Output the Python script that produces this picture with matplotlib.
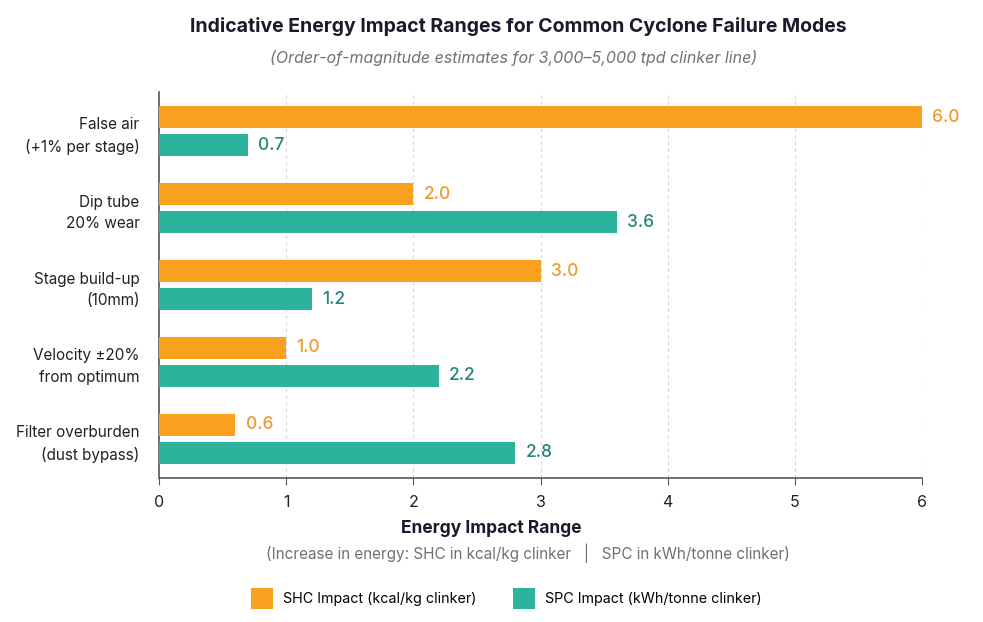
import matplotlib.pyplot as plt
import numpy as np
from matplotlib.patches import Patch

plt.rcParams['font.family'] = ['Inter', 'DejaVu Sans']

# Data
categories = ['False air\n(+1% per stage)', 'Dip tube\n20% wear', 'Stage build-up\n(10mm)',
              'Velocity ±20%\nfrom optimum', 'Filter overburden\n(dust bypass)']
shc_values = [6.0, 2.0, 3.0, 1.0, 0.6]
spc_values = [0.7, 3.6, 1.2, 2.2, 2.8]
xticks = [0, 1, 2, 3, 4, 5, 6]

orange = '#F9A11F'
teal = '#2DB39B'
orange_txt = '#EE9A2C'
teal_txt = '#25857A'

fig = plt.figure(figsize=(9.83, 6.22), dpi=100)
ax = fig.add_axes([0.1618, 0.2315, 0.7762, 0.6205])

y = np.arange(len(categories))
h = 0.286
off = 0.182
ax.barh(y - off, shc_values, height=h, color=orange, zorder=3)
ax.barh(y + off, spc_values, height=h, color=teal, zorder=3)

for yi, v in zip(y, shc_values):
    ax.text(v + 0.08, yi - off, f'{v:.1f}', va='center', ha='left',
            fontsize=12.5, color=orange_txt, fontweight='medium')
for yi, v in zip(y, spc_values):
    ax.text(v + 0.08, yi + off, f'{v:.1f}', va='center', ha='left',
            fontsize=12.5, color=teal_txt, fontweight='medium')

ax.set_xlim(0, 6)
ax.set_ylim(4.51, -0.51)
ax.set_xticks(xticks)
ax.set_xticklabels([str(t) for t in xticks], fontsize=11.5, color='#222222')
ax.set_yticks(y)
ax.set_yticklabels(categories, fontsize=11, color='#222222', linespacing=1.55)
ax.tick_params(axis='y', length=0, pad=14)
ax.tick_params(axis='x', length=5, color='#555555', pad=7)

ax.grid(axis='x', color='#d8d8d8', linestyle=(0, (3, 3)), linewidth=0.8, zorder=0)
for s in ['top', 'right']:
    ax.spines[s].set_visible(False)
ax.spines['left'].set_color('#555566')
ax.spines['bottom'].set_color('#555566')
ax.spines['left'].set_linewidth(1.2)
ax.spines['bottom'].set_linewidth(1.2)

fig.text(0.527, 0.958, 'Indicative Energy Impact Ranges for Common Cyclone Failure Modes',
         ha='center', va='center', fontsize=14, fontweight='bold', color='#1a1a2a')
fig.text(0.522, 0.906, '(Order-of-magnitude estimates for 3,000–5,000 tpd clinker line)',
         ha='center', va='center', fontsize=11.5, style='italic', color='#707078')

fig.text(0.5, 0.151, 'Energy Impact Range', ha='center', va='center',
         fontsize=12.5, fontweight='bold', color='#1a1a2a')
fig.text(0.537, 0.111, '(Increase in energy: SHC in kcal/kg clinker   |   SPC in kWh/tonne clinker)',
         ha='center', va='center', fontsize=11, color='#707078')

handles = [Patch(facecolor=orange, label='SHC Impact (kcal/kg clinker)'),
           Patch(facecolor=teal, label='SPC Impact (kWh/tonne clinker)')]
fig.legend(handles=handles, loc='center', bbox_to_anchor=(0.515, 0.038), ncol=2,
           frameon=False, fontsize=10.3, handlelength=1.5, handleheight=1.9,
           columnspacing=2.6, handletextpad=0.7)

fig.savefig('out.png', dpi=100, facecolor='white')
